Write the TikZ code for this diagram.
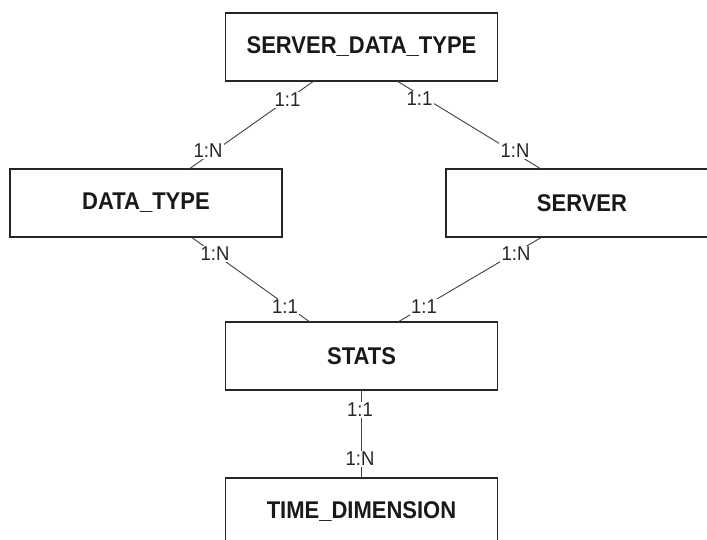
\documentclass[tikz,border=0pt]{standalone}
\usepackage{fontspec}
\setmainfont{Liberation Sans}
\newcommand{\tallent}[1]{\scalebox{1}[1.1]{#1}}
\newcommand{\tallcard}[1]{\scalebox{1}[1.08]{#1}}
\begin{document}
\begin{tikzpicture}[x=1pt,y=-1pt,
  ent/.style={draw=black!85,line width=1.2pt,minimum width=272pt,minimum height=68pt,inner sep=0pt,text=black!90,font=\fontsize{22}{24}\selectfont\bfseries},
  rel/.style={draw=black!75,line width=0.9pt},
  card/.style={fill=white,inner sep=1.2pt,text=black!85,font=\fontsize{18.5}{20}\selectfont}]
\useasboundingbox (0,0) rectangle (707,540);
\clip (0,0) rectangle (707,540);
% entities
\node[ent] (sdt) at (361.5,47) {\tallent{SERVER\_DATA\_TYPE}};
\node[ent] (dt) at (146,203) {\tallent{DATA\_TYPE}};
\node[ent] (sv) at (582,203) {\tallent{SERVER}};
\node[ent] (st) at (361.5,356) {\tallent{STATS}};
\node[ent] (td) at (361.5,512) {\tallent{TIME\_DIMENSION}};
% relationships
\draw[rel] ([xshift=-48.5pt]sdt.south) -- ([xshift=44pt]dt.north);
\draw[rel] ([xshift=36.5pt]sdt.south) -- ([xshift=-42pt]sv.north);
\draw[rel] ([xshift=46pt]dt.south) -- ([xshift=-52.5pt]st.north);
\draw[rel] ([xshift=-41pt]sv.south) -- ([xshift=37.5pt]st.north);
\draw[rel] (st.south) -- (td.north);
% cardinalities
\node[card] (c1) at (287.5,100) {\tallcard{1:1}};
\node[card] (c2) at (208,151) {\tallcard{1:N}};
\node[card] (c3) at (419.5,99) {\tallcard{1:1}};
\node[card] (c4) at (515,151) {\tallcard{1:N}};
\node[card] (c5) at (215,254) {\tallcard{1:N}};
\node[card] (c6) at (285,307) {\tallcard{1:1}};
\node[card] (c7) at (516,254) {\tallcard{1:N}};
\node[card] (c8) at (424,307) {\tallcard{1:1}};
\node[card] (c9) at (360,410) {\tallcard{1:1}};
\node[card] (c10) at (360,459) {\tallcard{1:N}};
\end{tikzpicture}
\end{document}
